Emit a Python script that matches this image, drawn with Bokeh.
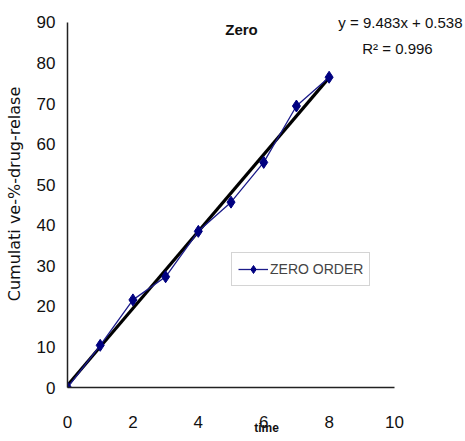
from bokeh.plotting import figure
from bokeh.models import Label, FixedTicker, Legend, LegendItem
from bokeh.embed import file_html
from bokeh.resources import INLINE

# data
time = [0, 1, 2, 3, 4, 5, 6, 7, 8]
release = [0, 10.4, 21.6, 27.3, 38.5, 45.7, 55.5, 69.4, 76.5]
slope = 9.483
intercept = 0.538
eq_text = "y = 9.483x + 0.538"
r2_text = "R\u00b2 = 0.996"
title_text = "Zero"
series_name = "ZERO ORDER"
x_ticks = [0, 2, 4, 6, 8, 10]
y_ticks = [0, 10, 20, 30, 40, 50, 60, 70, 80, 90]

FONT = "Liberation Sans"

p = figure(width=465, height=441, output_backend="svg", toolbar_location=None,
           x_range=(0, 12.17), y_range=(0, 95.42),
           min_border_left=67, min_border_right=0, min_border_top=0, min_border_bottom=54)
p.outline_line_color = None
p.xgrid.visible = False
p.ygrid.visible = False
p.background_fill_color = "white"

for ax in (p.xaxis[0], p.yaxis[0]):
    ax.axis_line_color = "#222222"
    ax.axis_line_width = 1.5
    ax.major_tick_in = 0
    ax.major_tick_out = 0
    ax.minor_tick_line_color = None
    ax.major_label_text_font = FONT
    ax.major_label_text_font_size = "17px"
    ax.major_label_text_color = "#111111"

p.xaxis.ticker = FixedTicker(ticks=x_ticks)
p.yaxis.ticker = FixedTicker(ticks=y_ticks)
p.xaxis.bounds = (0, 10)
p.yaxis.bounds = (0, 90)
p.xaxis.major_label_standoff = 28
p.yaxis.major_label_standoff = 12

p.xaxis.axis_label = "time"
p.xaxis.axis_label_text_font = FONT
p.xaxis.axis_label_text_font_size = "12px"
p.xaxis.axis_label_text_font_style = "bold"
p.xaxis.axis_label_standoff = -10
p.xaxis.axis_label_text_color = "#111111"

p.yaxis.axis_label = "Cumulati ve-%-drug-relase"
p.yaxis.axis_label_text_font = "DejaVu Sans"
p.yaxis.axis_label_text_font_size = "16px"
p.yaxis.axis_label_text_font_style = "normal"
p.yaxis.axis_label_standoff = 10
p.yaxis.axis_label_text_color = "#111111"

# trend line
tx = [time[0], time[-1]]
ty = [slope * t + intercept for t in tx]
p.line(tx, ty, line_color="black", line_width=3.2)

# series
r_line = p.line(time, release, line_color="#1c1c8a", line_width=1.3)
r_mark = p.scatter(time, release, marker="diamond", size=12, fill_color="#000080",
                   line_color="#000080")

legend = Legend(items=[LegendItem(label=series_name, renderers=[r_line, r_mark])],
                location=(164, 101))
legend.label_text_font = FONT
legend.label_text_font_size = "14px"
legend.label_standoff = 2
legend.glyph_width = 30
legend.padding = 6
legend.margin = 0
legend.border_line_color = "#aaaaaa"
legend.border_line_width = 1.5
legend.background_fill_color = "white"
p.add_layout(legend, "center")

p.add_layout(Label(x=5.32, y=88.3, text=title_text, text_font=FONT, text_font_size="15px",
                   text_font_style="bold", text_align="center", text_baseline="middle",
                   text_color="#111111"))
p.add_layout(Label(x=12.08, y=90.0, text=eq_text, text_font=FONT, text_font_size="15px",
                   text_align="right", text_baseline="middle", text_color="#111111"))
p.add_layout(Label(x=10.09, y=83.6, text=r2_text, text_font=FONT, text_font_size="15px",
                   text_align="center", text_baseline="middle", text_color="#111111"))

open("out.html", "w").write(file_html(p, INLINE))
